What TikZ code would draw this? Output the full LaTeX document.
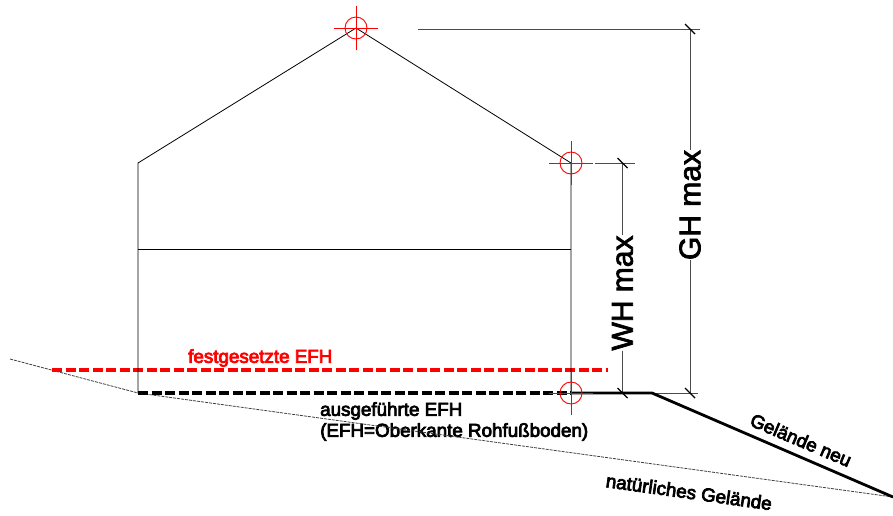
\documentclass[tikz,border=0pt]{standalone}
\usepackage{fontspec}
\setmainfont{Liberation Sans}
\newfontfamily\labfont[FakeBold=4]{Liberation Sans}
\newfontfamily\bigfont[FakeBold=2.5]{Liberation Sans}
\tikzset{
  wall/.style={draw=black,line width=0.8pt},
  dimline/.style={draw=black!70,line width=0.95pt},
  dimtick/.style={draw=black,line width=1.4pt},
  natural/.style={draw=black!75,line width=0.8pt,dash pattern=on 3pt off 1pt},
  newground/.style={draw=black,line width=2.8pt},
  efhdone/.style={draw=black,line width=3.2pt,dash pattern=on 10pt off 3.5pt},
  efhset/.style={draw=red,line width=3.2pt,dash pattern=on 10pt off 3.5pt},
  target/.style={draw=red,line width=0.9pt},
  lab/.style={inner sep=0pt,font=\labfont\fontsize{18.8}{21}\selectfont,align=left},
  biglab/.style={inner sep=0pt,font=\bigfont\fontsize{30}{32}\selectfont,rotate=90},
}
\newcommand{\crosshair}[1]{%
  \draw[target] (#1) circle (11);
  \draw[target] ([xshift=-22pt]#1) -- ([xshift=22pt]#1);
  \draw[target] ([yshift=-22pt]#1) -- ([yshift=22pt]#1);
}
\newcommand{\dimtickat}[1]{\draw[dimtick] ([shift={(-5pt,5pt)}]#1) -- ([shift={(5pt,-5pt)}]#1);}
\begin{document}
\begin{tikzpicture}[x=1pt,y=-1pt]
\useasboundingbox (0,0) rectangle (893,515);
% house
\coordinate (apex) at (356,28);
\coordinate (eaveR) at (571,163);
\coordinate (eaveL) at (138,163);
\coordinate (baseL) at (138,393);
\coordinate (baseR) at (571,393);
\coordinate (floorL) at (138,249);
\coordinate (floorR) at (571,249);
\coordinate (natStart) at (10,359);
\coordinate (natEnd) at (893,497);
\coordinate (slopeTop) at (652,393);
\coordinate (efhL) at (52,370);
\coordinate (efhR) at (608,370);
% dimension points
\coordinate (topDimL) at (418,29);
\coordinate (topDimR) at (700,29);
\coordinate (gh) at (690,29);
\coordinate (ghB) at (690,393);
\coordinate (wh) at (622.5,163);
\coordinate (whL) at (595,163);
\coordinate (whRR) at (635,163);
\coordinate (whB) at (622.5,393);
\coordinate (baseEnd) at (698,393);
% text
\node[biglab] (ghlabel) at (690,205) {GH max};
\node[biglab] (whlabel) at (622.5,293) {WH max};
\node[lab,text=red,anchor=west] (festlabel) at (188,358) {festgesetzte EFH};
\node[lab,anchor=north west] (auslabel) at (320,402) {ausgeführte EFH\\(EFH=Oberkante Rohfußboden)};
\node[lab,rotate=-23] (neulabel) at (801,440) {Gelände neu};
\node[lab,rotate=-8] (natlabel) at (689,492) {natürliches Gelände};
% ground
\draw[natural] (natStart) -- (baseL) -- (natEnd);
\draw[efhdone] (baseL) -- (baseR);
\draw[efhset] (efhL) -- (efhR);
% house lines
\draw[wall] (baseL) -- (eaveL) -- (apex) -- (eaveR) -- (baseR);
\draw[wall] (floorL) -- (floorR);
% dimensions
\draw[dimline] (topDimL) -- (topDimR);
\draw[dimline] (whL) -- (whRR);
\draw[dimline] (baseR) -- (baseEnd);
\draw[dimline] (gh) -- (ghlabel.east);
\draw[dimline] (ghlabel.west) -- (ghB);
\draw[dimline] (wh) -- (whlabel.east);
\draw[dimline] (whlabel.west) -- (whB);
\draw[newground] (baseR) -- (slopeTop) -- (natEnd);
\foreach \p in {gh,ghB,wh,whB} {\dimtickat{\p}}
% targets
\crosshair{apex}
\crosshair{eaveR}
\crosshair{baseR}
\end{tikzpicture}
\end{document}
